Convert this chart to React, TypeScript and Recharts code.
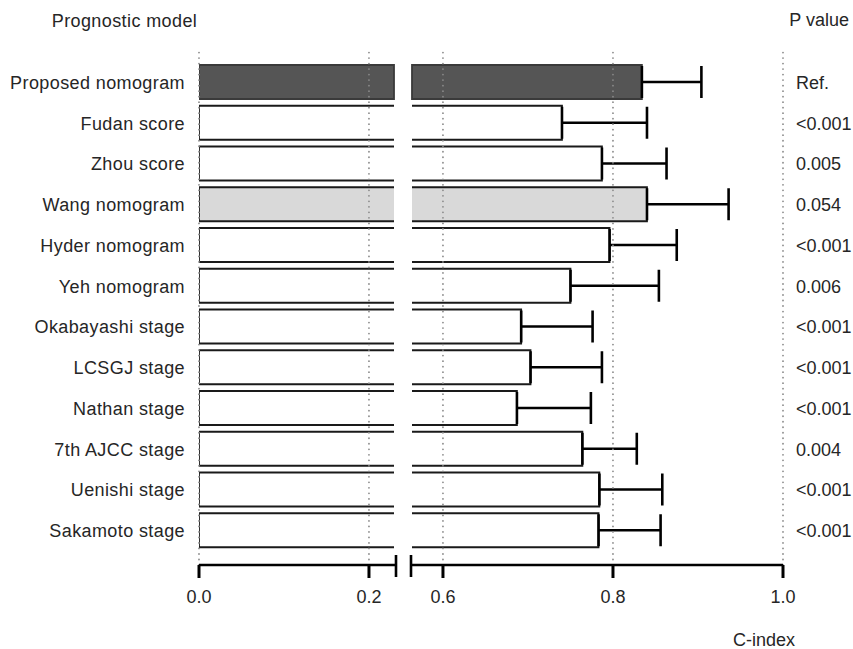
import React from 'react';
import { BarChart, Bar, XAxis, YAxis, ReferenceLine, ErrorBar } from 'recharts';

// ---- data ----
const models = [
  'Proposed nomogram',
  'Fudan score',
  'Zhou score',
  'Wang nomogram',
  'Hyder nomogram',
  'Yeh nomogram',
  'Okabayashi stage',
  'LCSGJ stage',
  'Nathan stage',
  '7th AJCC stage',
  'Uenishi stage',
  'Sakamoto stage',
];
const cIndex = [0.834, 0.74, 0.787, 0.84, 0.796, 0.75, 0.692, 0.703, 0.687, 0.764, 0.784, 0.783];
const upperCI = [0.904, 0.84, 0.863, 0.936, 0.875, 0.854, 0.776, 0.787, 0.774, 0.828, 0.858, 0.856];
const pValues = ['Ref.', '<0.001', '0.005', '0.054', '<0.001', '0.006', '<0.001', '<0.001', '<0.001', '0.004', '<0.001', '<0.001'];
const leftTicks = [0, 0.2];
const rightTicks = [0.6, 0.8, 1.0];
const LEFT_MAX = 0.2318;
const RIGHT_MIN = 0.5624;

const data = models.map((name, i) => ({
  name,
  c: cIndex[i],
  err: [0, upperCI[i] - cIndex[i]],
  p: pValues[i],
}));
const pByName: Record<string, string> = {};
data.forEach((d) => (pByName[d.name] = d.p));

// ---- styles ----
const FONT = '"Liberation Sans", Arial, Helvetica, sans-serif';
const TEXT = '#262626';
const BAR_STYLE: Record<string, { fill: string; stroke: string; closed: boolean }> = {
  'Proposed nomogram': { fill: '#555555', stroke: '#3a3a3a', closed: true },
  'Wang nomogram': { fill: '#d9d9d9', stroke: '#1a1a1a', closed: false },
};
const styleFor = (name: string) => BAR_STYLE[name] || { fill: '#ffffff', stroke: '#1a1a1a', closed: false };

const TICK_SIZE = 13;
const TICK_MARGIN = 12;
const BAR_SW = 1.8;

const makeBarShape = (side: 'left' | 'right') => (props: any) => {
  const { x, y, width, height, payload } = props;
  const st = styleFor(payload.name);
  if (side === 'left') {
    const x2 = x + width - 2;
    const d = st.closed
      ? `M${x2},${y} L${x},${y} L${x},${y + height} L${x2},${y + height} Z`
      : `M${x2},${y} L${x},${y} L${x},${y + height} L${x2},${y + height}`;
    return (
      <g>
        <rect x={x} y={y} width={x2 - x} height={height} fill={st.fill} />
        <path d={d} fill="none" stroke={st.stroke} strokeWidth={BAR_SW} />
      </g>
    );
  }
  const x2 = x + width;
  const xs = x + 1;
  const d = st.closed
    ? `M${xs},${y} L${x2},${y} L${x2},${y + height} L${xs},${y + height} Z`
    : `M${xs},${y} L${x2},${y} L${x2},${y + height} L${xs},${y + height}`;
  return (
    <g>
      <rect x={xs} y={y} width={x2 - xs} height={height} fill={st.fill} />
      <path d={d} fill="none" stroke={st.stroke} strokeWidth={BAR_SW} />
    </g>
  );
};

const makeTick = (breakVal: number) => (props: any) => {
  const { x, y, payload } = props;
  const axisY = y - TICK_SIZE - TICK_MARGIN;
  if (Math.abs(payload.value - breakVal) < 1e-6) {
    return <line x1={x} x2={x} y1={axisY - 10} y2={axisY + 12} stroke="#000" strokeWidth={2.6} />;
  }
  return (
    <g>
      <line x1={x} x2={x} y1={axisY} y2={axisY + TICK_SIZE} stroke="#000" strokeWidth={3} />
      <text x={x} y={axisY + 38} textAnchor="middle" fill={TEXT} fontSize={18} fontFamily={FONT}>
        {payload.value.toFixed(1)}
      </text>
    </g>
  );
};

const dotted = {
  stroke: '#8a8a8a',
  strokeWidth: 1.8,
  strokeDasharray: '0.01 5.5',
  strokeLinecap: 'round' as const,
};

const CHART_H = 649;
const MARGIN_TOP = 48;
const X_AXIS_H = 40;
const MARGIN_BOTTOM = CHART_H - 565 - X_AXIS_H;

export default function App() {
  return (
    <div
      style={{
        position: 'absolute',
        left: 0,
        top: 0,
        width: 853,
        height: 649,
        background: '#fff',
        fontFamily: FONT,
        overflow: 'hidden',
      }}
    >
      {/* left panel */}
      <div style={{ position: 'absolute', left: 0, top: 0 }}>
        <BarChart
          width={400}
          height={CHART_H}
          data={data}
          layout="vertical"
          margin={{ top: MARGIN_TOP, right: 4, bottom: MARGIN_BOTTOM, left: 0 }}
        >
          <XAxis
            type="number"
            domain={[0, LEFT_MAX]}
            allowDataOverflow
            ticks={[...leftTicks, LEFT_MAX]}
            interval={0}
            tick={makeTick(LEFT_MAX)}
            tickLine={false}
            tickSize={TICK_SIZE}
            tickMargin={TICK_MARGIN}
            height={X_AXIS_H}
            axisLine={{ stroke: '#000', strokeWidth: 2.6 }}
          />
          <YAxis
            type="category"
            dataKey="name"
            width={199}
            tickLine={false}
            axisLine={false}
            tickSize={6}
            tickMargin={8}
            padding={{ top: 14, bottom: 14 }}
            interval={0}
            tick={{ fill: TEXT, fontSize: 18, fontFamily: FONT, letterSpacing: 0.4 }}
          />
          <Bar
            dataKey={(d: any) => Math.min(d.c, LEFT_MAX)}
            barSize={34}
            isAnimationActive={false}
            shape={makeBarShape('left')}
          />
          {leftTicks.map((t) => (
            <ReferenceLine key={t} x={t} {...dotted} />
          ))}
        </BarChart>
      </div>

      {/* right panel */}
      <div style={{ position: 'absolute', left: 407, top: 0 }}>
        <BarChart
          width={446}
          height={CHART_H}
          data={data}
          layout="vertical"
          margin={{ top: MARGIN_TOP, right: 0, bottom: MARGIN_BOTTOM, left: 4 }}
        >
          <XAxis
            type="number"
            domain={[RIGHT_MIN, 1]}
            allowDataOverflow
            ticks={[RIGHT_MIN, ...rightTicks]}
            interval={0}
            tick={makeTick(RIGHT_MIN)}
            tickLine={false}
            tickSize={TICK_SIZE}
            tickMargin={TICK_MARGIN}
            height={X_AXIS_H}
            axisLine={{ stroke: '#000', strokeWidth: 2.6 }}
          />
          <YAxis
            type="category"
            dataKey="name"
            orientation="right"
            width={70}
            tickLine={false}
            axisLine={false}
            tickSize={6}
            tickMargin={7}
            padding={{ top: 14, bottom: 14 }}
            interval={0}
            tickFormatter={(v: string) => pByName[v]}
            tick={{ fill: TEXT, fontSize: 18, fontFamily: FONT }}
          />
          <Bar dataKey="c" barSize={34} isAnimationActive={false} shape={makeBarShape('right')}>
            <ErrorBar dataKey="err" direction="x" width={16} stroke="#000" strokeWidth={2.6} />
          </Bar>
          {rightTicks.map((t) => (
            <ReferenceLine key={t} x={t} {...dotted} />
          ))}
        </BarChart>
      </div>

      {/* headers */}
      <svg
        width={853}
        height={649}
        style={{ position: 'absolute', left: 0, top: 0, pointerEvents: 'none' }}
      >
        <text x={124.5} y={27} textAnchor="middle" fontSize={18} fill={TEXT} fontFamily={FONT} letterSpacing={0.4}>
          Prognostic model
        </text>
        <text x={849} y={26} textAnchor="end" fontSize={18} fill={TEXT} fontFamily={FONT}>
          P value
        </text>
        <text x={764} y={646} textAnchor="middle" fontSize={18} fill={TEXT} fontFamily={FONT}>
          C-index
        </text>
      </svg>
    </div>
  );
}
